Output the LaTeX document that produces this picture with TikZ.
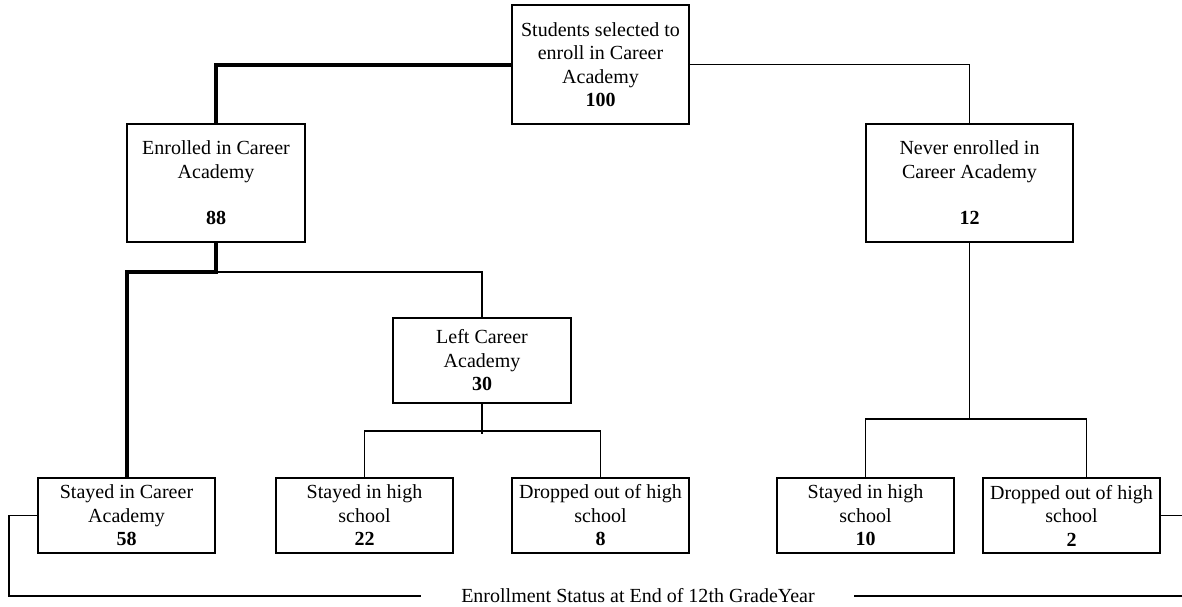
\documentclass[tikz,border=0pt]{standalone}
\usepackage{fontspec}
\setmainfont{Liberation Serif}
\usetikzlibrary{positioning}

\begin{document}
\begin{tikzpicture}[x=1pt,y=-1pt,node distance=30pt and 40pt,
  box/.style={draw,line width=1.2pt,align=center,minimum width=177pt,inner sep=2pt,outer sep=0pt,font=\fontsize{20}{23.5}\selectfont},
  leaf/.style={box,minimum height=75pt},
  ln/.style={line width=1.2pt},
  thk/.style={line width=4pt}]
\useasboundingbox (0,0) rectangle (1182,606);
\node[box,minimum height=119pt] (sel) at (600.5,64.5) {Students selected to\\enroll in Career\\Academy\\\textbf{100}};
\node[box,minimum width=178pt,minimum height=118pt] (enr) at (216,183) {Enrolled in Career\\Academy\\[23pt]\textbf{88}};
\node[box,minimum width=207pt,minimum height=118pt] (never) at (969.5,183) {Never enrolled in\\Career Academy\\[23pt]\textbf{12}};
\node[box,minimum width=178pt,minimum height=85pt] (left) at (482,360.5) {Left Career\\Academy\\\textbf{30}};
\node[leaf] (stayca) at (126.5,515.5) {Stayed in Career\\Academy\\\textbf{58}};
\node[leaf,right=61pt of stayca] (stay22) {Stayed in high\\school\\\textbf{22}};
\node[leaf,right=59pt of stay22] (drop8) {Dropped out of high\\school\\\textbf{8}};
\node[leaf,right=88pt of drop8] (stay10) {Stayed in high\\school\\\textbf{10}};
\node[leaf,right=29pt of stay10] (drop2) {Dropped out of high\\school\\\textbf{2}};
\node[font=\fontsize{20}{23.5}\selectfont] (status) at (638,596) {Enrollment Status at End of 12th GradeYear};
% junction points
\coordinate[below=30pt of enr.south] (ejoin);
\coordinate[below=28pt of left.south] (ljoin);
\coordinate[below=31pt of left.south] (lstub);
\coordinate[below=177pt of never.south] (njoin);
\coordinate (cornL) at (9,596);
\coordinate (edgeR) at (1182,596);
\coordinate (sideR) at (1182,515.5);
% tree
\draw[ln] (sel.east) -| (never.north);
\draw[ln] (ejoin) -| (left.north);
\draw[thk] (sel.west) -| (enr.north);
\draw[thk] (enr.south) -- (ejoin) -| (stayca.north);
\draw[ln] (left.south) -- (lstub);
\draw[ln] (stay22.north) |- (ljoin) -| (drop8.north);
\draw[ln] (never.south) -- (njoin);
\draw[ln] (stay10.north) |- (njoin) -| ([xshift=15pt]drop2.north);
% footer bracket
\draw[ln] (stayca.west) -| (cornL) -- ([xshift=-37pt]status.west);
\draw[ln] ([xshift=36pt]status.east) -- (edgeR);
\draw[ln] (drop2.east) -- (sideR);
\end{tikzpicture}
\end{document}
